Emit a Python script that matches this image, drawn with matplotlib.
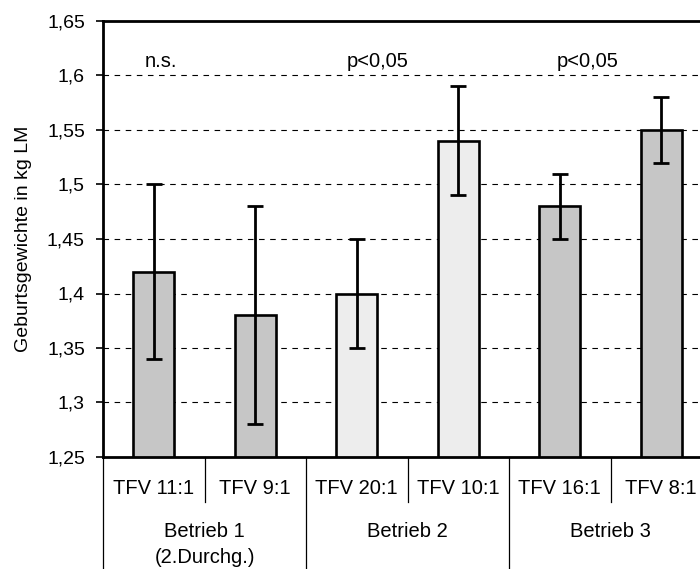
import matplotlib
matplotlib.use("Agg")
import matplotlib.pyplot as plt
from matplotlib.transforms import blended_transform_factory

plt.rcParams['font.family'] = ['Liberation Sans', 'DejaVu Sans']

# Data
categories = ["TFV 11:1", "TFV 9:1", "TFV 20:1", "TFV 10:1", "TFV 16:1", "TFV 8:1"]
groups = ["Betrieb 1", "Betrieb 2", "Betrieb 3"]
group_sub = ["(2.Durchg.)", "", ""]
means = [1.42, 1.38, 1.40, 1.54, 1.48, 1.55]
errors = [0.08, 0.10, 0.05, 0.05, 0.03, 0.03]
bar_colors = ["#c6c6c6", "#c6c6c6", "#ededed", "#ededed", "#c6c6c6", "#c6c6c6"]
sig_labels = ["n.s.", "p<0,05", "p<0,05"]
sig_x = [0.07, 2.21, 4.27]
yticks = [1.25, 1.30, 1.35, 1.40, 1.45, 1.50, 1.55, 1.60, 1.65]
ytick_labels = ["1,25", "1,3", "1,35", "1,4", "1,45", "1,5", "1,55", "1,6", "1,65"]

W, H = 700, 569
fig = plt.figure(figsize=(W / 100, H / 100), dpi=100)
ax = fig.add_axes([103 / W, (H - 457) / H, (712 - 103) / W, (457 - 21) / H])

x = list(range(len(categories)))

# Dashed horizontal gridlines behind the bars
for yv in yticks[1:-1]:
    ax.axhline(yv, color="black", lw=0.8, ls=(0, (5, 5)), zorder=0)

ax.bar(x, means, width=0.40, bottom=0, color=bar_colors, edgecolor="black",
       linewidth=1.9, zorder=2)
ax.errorbar(x, means, yerr=errors, fmt="none", ecolor="black", elinewidth=2.0,
            capsize=5.8, capthick=2.0, zorder=3)

ax.set_xlim(-0.5, len(categories) - 0.5)
ax.set_ylim(1.25, 1.65)
ax.set_yticks(yticks)
ax.set_yticklabels(ytick_labels, fontsize=14)
ax.tick_params(axis="y", direction="out", length=5, width=1.2, pad=8)
ax.set_xticks([])

for side in ["left", "top", "bottom", "right"]:
    ax.spines[side].set_linewidth(2.0)
    ax.spines[side].set_color("black")

# Significance labels
for sx, s in zip(sig_x, sig_labels):
    ax.text(sx, 1.608, s, ha="center", va="baseline", fontsize=14.5)

# Category / group labels under the axis
trans = blended_transform_factory(ax.transData, ax.transAxes)
for xi, c in zip(x, categories):
    ax.text(xi, -0.085, c, ha="center", va="baseline", fontsize=14.5,
            transform=trans, clip_on=False)
for gi, (g, sub) in enumerate(zip(groups, group_sub)):
    gx = 2 * gi + 0.5
    ax.text(gx, -0.1835, g, ha="center", va="baseline", fontsize=14.5,
            transform=trans, clip_on=False)
    if sub:
        ax.text(gx, -0.243, sub, ha="center", va="baseline", fontsize=14.5,
                transform=trans, clip_on=False)

# Separator lines between categories and groups
for k in range(len(categories) + 1):
    xs = k - 0.5
    y_end = -0.103 if k % 2 == 1 else -0.30
    ax.plot([xs, xs], [0, y_end], color="black", lw=0.9, transform=trans,
            clip_on=False)

fig.text(24 / W, 1 - 239 / H, "Geburtsgewichte in kg LM", rotation=90,
         ha="center", va="center", fontsize=14)

fig.savefig("out.png", dpi=100)
